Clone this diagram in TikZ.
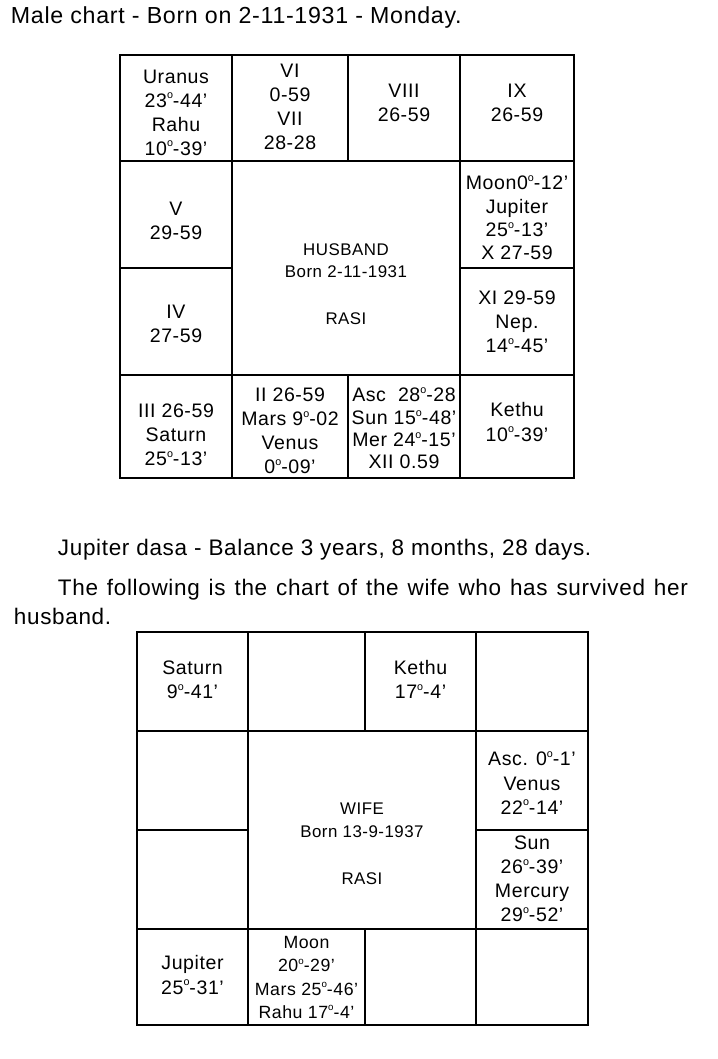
\documentclass[tikz,border=0pt]{standalone}
\usepackage{fontspec}
\setmainfont{Liberation Sans}[LetterSpace=3]
\usepackage{tikz}
\newcommand{\dg}{\raisebox{0.42em}{\scalebox{0.55}{o}}}

\begin{document}
\begin{tikzpicture}[line width=1.3pt,
  txt/.style={anchor=base west,inner sep=0pt,font=\fontsize{16}{18}\selectfont},
  cell/.style={align=center,inner sep=0pt,font=\fontsize{13.9}{17.1}\selectfont},
  mid/.style={align=center,inner sep=0pt,font=\fontsize{12}{15.4}\selectfont}]
\useasboundingbox (0,0) rectangle (17.925,-26.475);
% text round the charts
\node[txt,font=\fontsize{16.5}{18}\selectfont] (title) at (0.25,-0.6) {Male chart - Born on 2-11-1931 - Monday.};
\node[txt] (dasa) at (1.425,-13.875) {Jupiter dasa - Balance 3 years, 8 months, 28 days.};
\node[txt] (follow) at (1.425,-14.875) {\makebox[15.75cm][s]{The following is the chart of the wife who has survived her}};
\node[txt] (husband) at (0.325,-15.6) {husband.};
% husband chart
\draw (3.0,-1.375) rectangle (14.35,-11.95);
\draw (3.0,-4.025) -- (14.35,-4.025);
\draw (3.0,-9.375) -- (14.35,-9.375);
\draw (3.0,-6.7) -- (5.8,-6.7);
\draw (11.5,-6.7) -- (14.35,-6.7);
\draw (5.8,-1.375) -- (5.8,-11.95);
\draw (11.5,-1.375) -- (11.5,-11.95);
\draw (8.7,-1.375) -- (8.7,-4.025);
\draw (8.7,-9.375) -- (8.7,-11.95);
\node[cell] (hUranus) at (4.4,-2.8125) {Uranus\\23\dg-44'\\Rahu\\10\dg-39'};
\node[cell] (hVI) at (7.25,-2.6625) {VI\\0-59\\VII\\28-28};
\node[cell] (hVIII) at (10.1,-2.5625) {VIII\\26-59};
\node[cell] (hIX) at (12.925,-2.5625) {IX\\26-59};
\node[cell] (hV) at (4.4,-5.5125) {V\\29-59};
\node[cell,font=\fontsize{13.9}{16.6}\selectfont] (hMoon) at (12.925,-5.45) {Moon0\dg-12'\\Jupiter\\25\dg-13'\\X 27-59};
\node[mid] (hHusband) at (8.65,-6.5125) {HUSBAND\\Born 2-11-1931};
\node[mid] (hRasi) at (8.65,-7.975) {RASI};
\node[cell] (hIV) at (4.4,-8.0875) {IV\\27-59};
\node[cell] (hXI) at (12.925,-8.0375) {XI 29-59\\Nep.\\14\dg-45'};
\node[cell] (hIII) at (4.4,-10.875) {III 26-59\\Saturn\\25\dg-13'};
\node[cell] (hII) at (7.25,-10.775) {II 26-59\\Mars 9\dg-02\\Venus\\0\dg-09'};
\node[cell,font=\fontsize{13.9}{15.9}\selectfont] (hAsc) at (10.1,-10.7125) {Asc~~28\dg-28\\Sun 15\dg-48'\\Mer 24\dg-15'\\XII 0.59};
\node[cell] (hKethu) at (12.925,-10.55) {Kethu\\10\dg-39'};
% wife chart
\draw (3.425,-15.8) rectangle (14.7,-25.625);
\draw (3.425,-18.275) -- (14.7,-18.275);
\draw (3.425,-23.225) -- (14.7,-23.225);
\draw (3.425,-20.75) -- (6.2,-20.75);
\draw (11.9,-20.75) -- (14.7,-20.75);
\draw (6.2,-15.8) -- (6.2,-25.625);
\draw (11.9,-15.8) -- (11.9,-25.625);
\draw (9.125,-15.8) -- (9.125,-18.275);
\draw (9.125,-23.225) -- (9.125,-25.625);
\node[cell] (wSaturn) at (4.8125,-16.9875) {Saturn\\9\dg-41'};
\node[cell] (wKethu) at (10.5125,-16.9875) {Kethu\\17\dg-4'};
\node[cell] (wAsc) at (13.3,-19.575) {Asc. 0\dg-1'\\Venus\\22\dg-14'};
\node[mid,font=\fontsize{12}{16.4}\selectfont] (wWife) at (9.05,-20.5125) {WIFE\\Born 13-9-1937};
\node[mid] (wRasi) at (9.05,-21.975) {RASI};
\node[cell] (wSun) at (13.3,-21.975) {Sun\\26\dg-39'\\Mercury\\29\dg-52'};
\node[cell] (wJupiter) at (4.8125,-24.375) {Jupiter\\25\dg-31'};
\node[cell,font=\fontsize{12.6}{16.4}\selectfont] (wMoon) at (7.6625,-24.4375) {Moon\\20\dg-29'\\Mars 25\dg-46'\\Rahu 17\dg-4'};
\end{tikzpicture}
\end{document}
